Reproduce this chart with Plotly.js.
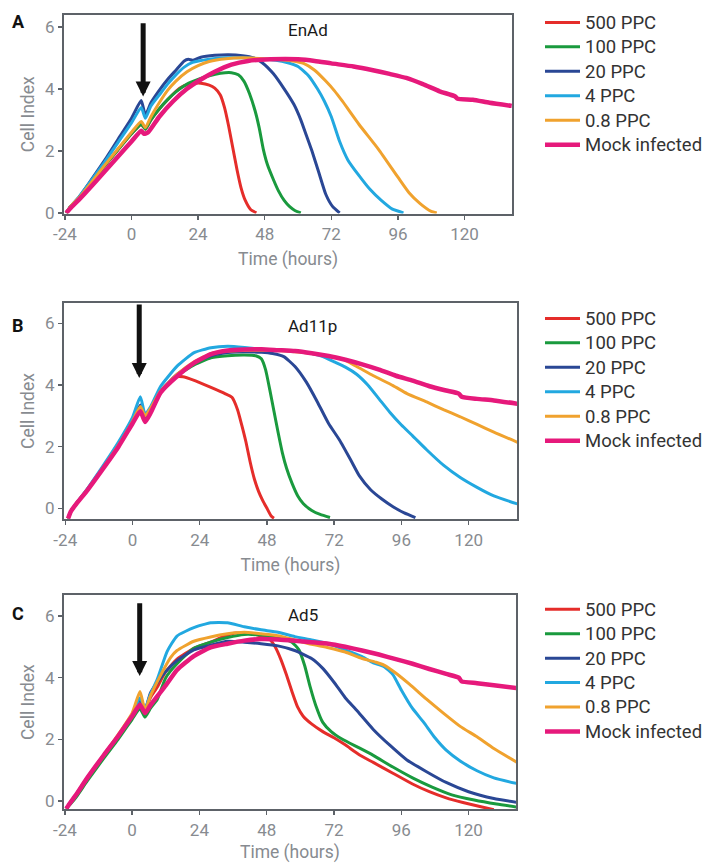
<!DOCTYPE html>
<html>
<head>
<meta charset="utf-8">
<script src="https://cdn.plot.ly/plotly-3.0.1.min.js"></script>
<style>
  html, body { margin: 0; padding: 0; background: #ffffff; }
  #chart { width: 708px; height: 863px; }
</style>
</head>
<body>
<div id="chart"></div>
<script>
// ---------------- DATA ----------------
const seriesNames = ['500 PPC', '100 PPC', '20 PPC', '4 PPC', '0.8 PPC', 'Mock infected'];
const panelTitles = ['EnAd', 'Ad11p', 'Ad5'];
const panelLetters = ['A', 'B', 'C'];
const xTickVals = [-24, 0, 24, 48, 72, 96, 120];
const yTickVals = [0, 2, 4, 6];

// Panel A (EnAd)
const A_t_500 = [-23.5,-22,-19,-15,-10,-5,0,3.5,5,7,10,13,16,19,22,25,28,30,32,33.5,35,36.5,38,39.5,41,43,45];
const A_v_500 = [0,0.2,0.47,0.9,1.48,2.02,2.55,2.85,2.7,3.0,3.35,3.65,3.92,4.1,4.17,4.18,4.12,4.02,3.8,3.4,2.8,2.1,1.4,0.8,0.4,0.1,0.0];
const A_t_100 = [-23.5,-22,-19,-15,-10,-5,0,3.5,5,7,10,13,16,20,24,28,32,36,38.5,40.5,42.5,44.5,46,47.5,49,51,53,55,57,59,61];
const A_v_100 = [0,0.2,0.47,0.9,1.48,2.02,2.55,2.85,2.7,3.0,3.35,3.65,3.9,4.15,4.3,4.42,4.5,4.52,4.45,4.25,3.85,3.3,2.75,2.05,1.55,1.1,0.7,0.4,0.2,0.07,0.0];
const A_t_20 = [-23.5,-22,-19,-15,-10,-5,0,3.5,5,7,10,13,16,19,20.5,22,25,30,35,40,44,47,51,55,58.5,61,63,65,67.5,70,72.5,75];
const A_v_20 = [0,0.2,0.5,1.0,1.65,2.35,3.05,3.62,3.15,3.55,3.95,4.3,4.6,4.9,4.95,4.92,5.02,5.08,5.1,5.07,5.0,4.85,4.5,4.0,3.5,3.0,2.5,2.0,1.3,0.6,0.2,0.0];
const A_t_4 = [-23.5,-22,-19,-15,-10,-5,0,3.5,5,7,10,13,16,19,22,28,34,40,46,52,56,60,64,67,69.5,72,75,78,82,86,90,94,98];
const A_v_4 = [0,0.2,0.5,0.98,1.6,2.25,2.9,3.4,3.05,3.45,3.8,4.15,4.45,4.7,4.85,4.95,5.0,5.0,4.97,4.92,4.85,4.72,4.4,4.0,3.6,3.1,2.3,1.7,1.2,0.75,0.4,0.12,0.0];
const A_t_08 = [-23.5,-22,-19,-15,-10,-5,0,3.5,5,7,10,13,16,20,24,28,34,40,46,52,58,62,66,70,73,76,82,89,96,100,104,108,110];
const A_v_08 = [0,0.2,0.48,0.92,1.5,2.05,2.6,2.95,2.75,3.1,3.55,3.95,4.25,4.55,4.75,4.88,4.97,5.0,4.98,4.95,4.9,4.82,4.6,4.25,3.95,3.6,2.85,2.05,1.15,0.65,0.3,0.05,0.0];
const A_t_mock = [-23.5,-22,-19,-15,-10,-5,0,3.5,4.5,6,10,15,20,25,30,36,42,50,60,66,72,80,87,93,99,105,111,116.5,117.5,123,129,137];
const A_v_mock = [0,0.15,0.42,0.8,1.3,1.8,2.3,2.65,2.55,2.6,3.1,3.6,4.0,4.3,4.55,4.78,4.9,4.95,4.95,4.9,4.82,4.72,4.6,4.48,4.35,4.15,3.92,3.76,3.68,3.65,3.55,3.45];

// Panel B (Ad11p)
const B_t_500 = [-23,-22,-20,-16,-10,-5,0,2.8,4.5,6.5,10,15,18,22,28,33,35.5,37.5,39,40.5,42,43.5,45,46.5,48,49.5,50.5];
const B_v_500 = [-0.33,-0.1,0.15,0.61,1.37,2.03,2.8,3.25,3.0,3.2,3.75,4.25,4.27,4.15,3.92,3.72,3.6,3.2,2.7,2.15,1.5,0.95,0.55,0.25,0.0,-0.25,-0.32];
const B_t_100 = [-23,-22,-20,-16,-10,-5,0,2.8,4.5,6.5,10,16,22,28,34,40,44,46,47.5,49,50.5,52,53.5,55,57,59,61,64,67,70.5];
const B_v_100 = [-0.33,-0.1,0.15,0.61,1.37,2.03,2.8,3.25,3.0,3.2,3.75,4.3,4.65,4.88,4.95,4.97,4.95,4.85,4.5,3.85,3.15,2.45,1.8,1.3,0.8,0.4,0.15,-0.07,-0.2,-0.3];
const B_t_20 = [-23,-22,-20,-16,-10,-5,0,2.8,4.5,6.5,10,16,22,28,34,40,46,50,54,58,62,66,70,74,78,81,85,89,93,97,101];
const B_v_20 = [-0.33,-0.1,0.16,0.63,1.4,2.08,2.85,3.35,2.95,3.25,3.8,4.35,4.72,4.95,5.05,5.08,5.06,5.02,4.92,4.6,4.1,3.45,2.75,2.2,1.55,1.05,0.6,0.3,0.05,-0.15,-0.3];
const B_t_4 = [-23,-22,-20,-16,-10,-5,0,2.8,4.5,6.5,10,16,22,28,34,40,46,52,58,64,68,72,76,80,84,88,92,96,100,105,111,117,123,129,137.5];
const B_v_4 = [-0.33,-0.1,0.17,0.65,1.45,2.15,2.95,3.62,3.05,3.3,3.95,4.62,5.05,5.21,5.26,5.22,5.16,5.13,5.1,5.02,4.92,4.75,4.58,4.35,4.0,3.55,3.1,2.7,2.35,1.9,1.4,1.0,0.68,0.4,0.14];
const B_t_08 = [-23,-22,-20,-16,-10,-5,0,2.8,4.5,6.5,10,16,22,28,34,40,46,52,58,64,70,75,80,86,93,98,105,111,117,123,129,137.5];
const B_v_08 = [-0.33,-0.1,0.16,0.62,1.38,2.05,2.82,3.3,3.0,3.25,3.8,4.35,4.75,5.02,5.1,5.12,5.13,5.12,5.08,5.02,4.94,4.84,4.6,4.3,3.98,3.72,3.45,3.2,2.97,2.72,2.47,2.14];
const B_t_mock = [-23,-22,-20,-16,-10,-5,0,2.8,4.5,6.5,10,16,22,28,34,40,46,52,58,64,70,76,82,88,94,100,106,112,116.5,117.5,123,129,137.5];
const B_v_mock = [-0.33,-0.1,0.15,0.6,1.35,2.0,2.75,3.15,2.8,3.1,3.75,4.29,4.72,5.0,5.12,5.15,5.16,5.13,5.1,5.03,4.94,4.82,4.67,4.5,4.3,4.14,3.96,3.82,3.72,3.62,3.55,3.5,3.39];

// Panel C (Ad5)
const C_t_500 = [-23.5,-22,-20,-16,-10,-5,0,2.8,4.6,6.5,9,12,16,22,28,33,37,44,49,51,53,55,57,59,61,64,68,72,76,81,86,93,100,106,112,118,124,129];
const C_v_500 = [-0.25,-0.05,0.2,0.75,1.5,2.1,2.78,3.3,2.95,3.35,3.7,4.2,4.6,4.95,5.15,5.35,5.45,5.4,5.25,5.0,4.6,4.1,3.55,3.05,2.75,2.5,2.25,2.05,1.82,1.5,1.25,0.9,0.55,0.3,0.1,-0.05,-0.18,-0.28];
const C_t_100 = [-23.5,-22,-20,-16,-10,-5,0,2.8,4.6,6.5,9,12,16,22,28,34,40,46,52,57,59.5,61.5,63.5,65.5,68,71,75,81,86,93,100,107,114,122,130,137.5];
const C_v_100 = [-0.25,-0.1,0.12,0.65,1.4,2.0,2.65,3.0,2.72,3.0,3.3,4.0,4.45,4.95,5.15,5.3,5.4,5.38,5.3,5.15,4.9,4.4,3.7,3.1,2.55,2.25,2.0,1.72,1.48,1.1,0.75,0.45,0.2,0.03,-0.1,-0.2];
const C_t_20 = [-23.5,-22,-20,-16,-10,-5,0,2.8,4.6,6.5,9,12,16,22,28,34,40,46,52,58,64,68,72,76,80,86,92,98,105,112,120,129,137.5];
const C_v_20 = [-0.25,-0.05,0.2,0.75,1.5,2.12,2.8,3.3,2.95,3.5,3.85,4.2,4.55,4.9,5.05,5.18,5.15,5.1,5.03,4.88,4.62,4.3,3.85,3.35,2.95,2.32,1.8,1.33,0.95,0.6,0.3,0.08,-0.05];
const C_t_4 = [-23.5,-22,-20,-16,-10,-5,0,2.8,4.6,6.5,9,12.5,16,22,28,34,40,46,52,58,64,70,76,82,86,90,93,96,100,104,108,112,117,123,129,137.5];
const C_v_4 = [-0.25,-0.05,0.2,0.75,1.5,2.12,2.8,3.35,3.0,3.45,3.95,4.85,5.35,5.62,5.78,5.78,5.65,5.55,5.47,5.33,5.22,5.1,4.9,4.68,4.48,4.35,4.1,3.6,3.0,2.55,2.05,1.65,1.3,0.98,0.75,0.56];
const C_t_08 = [-23.5,-22,-20,-16,-10,-5,0,2.8,4.6,6.5,10,13.7,16,22,28,34,40,46,52,58,64,70,76,82,87,90,94,99,105,111,117,123,129,137.5];
const C_v_08 = [-0.25,-0.05,0.2,0.75,1.5,2.15,2.85,3.55,2.95,3.4,4.05,4.65,4.88,5.18,5.32,5.42,5.47,5.42,5.36,5.22,5.08,4.97,4.83,4.62,4.5,4.4,4.15,3.78,3.3,2.85,2.42,2.08,1.7,1.24];
const C_t_mock = [-23.5,-22,-20,-16,-10,-5,0,2.8,4.6,6.5,9,12,16,22,28,34,40,46,52,58,64,70,76,82,88,94,100,106,112,116.5,117.5,123,129,137.5];
const C_v_mock = [-0.25,-0.05,0.2,0.75,1.5,2.1,2.75,3.12,2.85,3.1,3.4,3.75,4.25,4.7,4.98,5.1,5.2,5.25,5.24,5.2,5.15,5.1,5.0,4.88,4.75,4.6,4.45,4.28,4.12,4.0,3.88,3.82,3.75,3.66];

// Infection time arrows: [x (hours), tip CI, tail CI]
const arrowA = [4.2, 3.75, 6.16];
const arrowB = [2.4, 4.23, 6.66];
const arrowC = [2.7, 4.05, 6.46];

// ---------------- STYLE ----------------
const colors = ['#e52d2a', '#1a9a3e', '#2a4795', '#22a8e0', '#f0a22e', '#e6197b'];
const widths = [3, 3, 3, 3, 3, 4.5];
const fontFam = 'Roboto, "Open Sans", sans-serif';
const tickGray = '#878b90';
const frameGray = '#5d6268';

const panels = [
  { t: [A_t_500, A_t_100, A_t_20, A_t_4, A_t_08, A_t_mock],
    v: [A_v_500, A_v_100, A_v_20, A_v_4, A_v_08, A_v_mock],
    xs: 'x', ys: 'y', leg: 'legend', arrow: arrowA },
  { t: [B_t_500, B_t_100, B_t_20, B_t_4, B_t_08, B_t_mock],
    v: [B_v_500, B_v_100, B_v_20, B_v_4, B_v_08, B_v_mock],
    xs: 'x2', ys: 'y2', leg: 'legend2', arrow: arrowB },
  { t: [C_t_500, C_t_100, C_t_20, C_t_4, C_t_08, C_t_mock],
    v: [C_v_500, C_v_100, C_v_20, C_v_4, C_v_08, C_v_mock],
    xs: 'x3', ys: 'y3', leg: 'legend3', arrow: arrowC }
];

const traces = [];
panels.forEach(p => {
  for (let i = 0; i < seriesNames.length; i++) {
    traces.push({
      type: 'scatter', mode: 'lines',
      x: p.t[i], y: p.v[i],
      name: '<span style="font-size:18.5px">' + seriesNames[i] + '</span>',
      xaxis: p.xs, yaxis: p.ys, legend: p.leg,
      line: { color: colors[i], width: widths[i], shape: 'spline', smoothing: 0.5 },
      hoverinfo: 'skip'
    });
  }
});

function xAxis(domain, range, anchor) {
  return {
    domain: domain, range: range, anchor: anchor,
    tickmode: 'array', tickvals: xTickVals, ticktext: xTickVals.map(String),
    showline: true, mirror: true, linecolor: frameGray, linewidth: 2,
    ticks: 'outside', ticklen: 4, tickwidth: 1.5, tickcolor: frameGray,
    showgrid: false, zeroline: false,
    tickfont: { family: fontFam, size: 17, color: tickGray },
    title: { text: 'Time (hours)', standoff: 10, font: { family: fontFam, size: 17.5, color: tickGray } }
  };
}
function yAxis(domain, range, anchor) {
  return {
    domain: domain, range: range, anchor: anchor,
    tickmode: 'array', tickvals: yTickVals, ticktext: yTickVals.map(String),
    showline: true, mirror: true, linecolor: frameGray, linewidth: 2,
    ticks: 'outside', ticklen: 4, tickwidth: 1.5, tickcolor: frameGray,
    showgrid: false, zeroline: false,
    tickfont: { family: fontFam, size: 17, color: tickGray },
    title: { text: 'Cell Index', standoff: 6, font: { family: fontFam, size: 17.5, color: tickGray } }
  };
}
function legendAt(y) {
  return {
    x: 0.7635, xanchor: 'left', y: y, yanchor: 'top',
    bgcolor: 'rgba(0,0,0,0)', borderwidth: 0,
    font: { family: fontFam, size: 16.5, color: '#333333' },
    itemwidth: 35,
    tracegroupgap: 0
  };
}

const annotations = [];
const arrowRefs = [['x', 'y'], ['x2', 'y2'], ['x3', 'y3']];
panels.forEach((p, k) => {
  const a = p.arrow;
  annotations.push({
    xref: arrowRefs[k][0], yref: arrowRefs[k][1], x: a[0], y: a[1],
    axref: arrowRefs[k][0], ayref: arrowRefs[k][1], ax: a[0], ay: a[2],
    text: '', showarrow: true, arrowhead: 2, arrowsize: 0.6, arrowwidth: 5, arrowcolor: '#111111'
  });
});
const titleY = [1 - 30 / 863, 1 - 326 / 863, 1 - 615 / 863];
const letterY = [1 - 21.7 / 863, 1 - 325 / 863, 1 - 613 / 863];
for (let k = 0; k < 3; k++) {
  annotations.push({
    xref: 'paper', yref: 'paper', x: 286 / 708, y: titleY[k], xanchor: 'left', yanchor: 'middle',
    text: panelTitles[k], showarrow: false,
    font: { family: fontFam, size: 17, color: '#1a1a1a' }
  });
  annotations.push({
    xref: 'paper', yref: 'paper', x: 18.5 / 708, y: letterY[k], xanchor: 'center', yanchor: 'middle',
    text: '<b>' + panelLetters[k] + '</b>', showarrow: false,
    font: { family: fontFam, size: 18, color: '#111111' }
  });
}

const layout = {
  width: 708, height: 863,
  margin: { l: 0, r: 0, t: 0, b: 0 },
  paper_bgcolor: '#ffffff', plot_bgcolor: '#ffffff',
  font: { family: fontFam, size: 17, color: tickGray },
  showlegend: true,
  xaxis: xAxis([64 / 708, 513 / 708], [-24.35, 137.2], 'y'),
  yaxis: yAxis([1 - 213.5 / 863, 1 - 15 / 863], [-0.02, 6.38], 'x'),
  xaxis2: xAxis([64 / 708, 517.7 / 708], [-24.49, 137.25], 'y2'),
  yaxis2: yAxis([1 - 519.3 / 863, 1 - 302.7 / 863], [-0.357, 6.67], 'x2'),
  xaxis3: xAxis([64 / 708, 516.7 / 708], [-24.33, 136.9], 'y3'),
  yaxis3: yAxis([1 - 809.3 / 863, 1 - 595 / 863], [-0.27, 6.68], 'x3'),
  legend: legendAt(0.994),
  legend2: legendAt(0.651),
  legend3: legendAt(0.314),
  annotations: annotations
};

Plotly.newPlot('chart', traces, layout, { staticPlot: true, displayModeBar: false });
</script>
</body>
</html>
